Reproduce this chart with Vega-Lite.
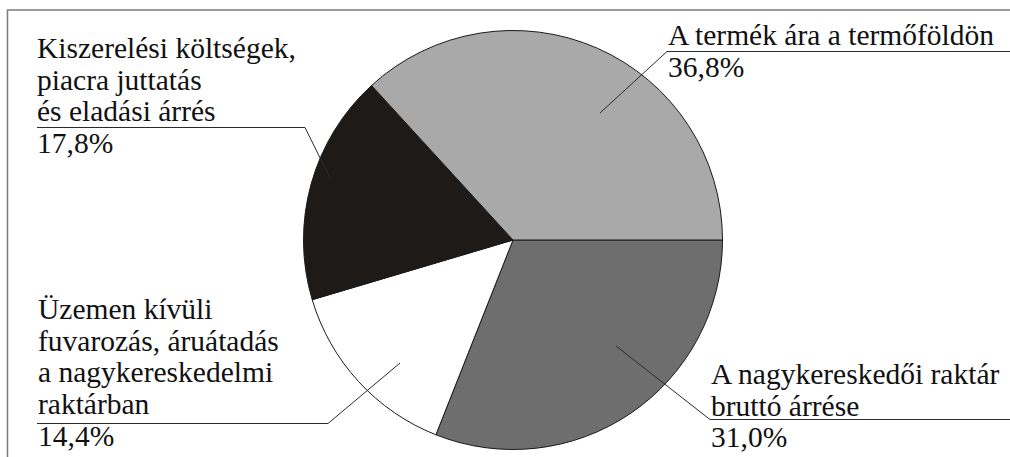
{
  "$schema": "https://vega.github.io/schema/vega-lite/v6.json",
  "width": 994,
  "height": 434,
  "autosize": {"type": "none"},
  "padding": {"left": 16, "top": 23, "right": 0, "bottom": 0},
  "background": "white",
  "config": {"view": {"stroke": null}},
  "datasets": {
    "slices": [
      {"category": "A nagykereskedői raktár bruttó árrése", "share": 31.0, "rank": 1},
      {"category": "Üzemen kívüli fuvarozás, áruátadás a nagykereskedelmi raktárban", "share": 14.4, "rank": 2},
      {"category": "Kiszerelési költségek, piacra juttatás és eladási árrés", "share": 17.8, "rank": 3},
      {"category": "A termék ára a termőföldön", "share": 36.8, "rank": 4}
    ],
    "labels": [
      {"text": "Kiszerelési költségek,\npiacra juttatás\nés eladási árrés\n17,8%", "x": 37, "y": 58},
      {"text": "A termék ára a termőföldön\n36,8%", "x": 668, "y": 45},
      {"text": "Üzemen kívüli\nfuvarozás, áruátadás\na nagykereskedelmi\nraktárban\n14,4%", "x": 38, "y": 319},
      {"text": "A nagykereskedői raktár\nbruttó árrése\n31,0%", "x": 711, "y": 384}
    ],
    "leaders": [
      {"id": "a", "k": 1, "x": 37, "y": 127.5},
      {"id": "a", "k": 2, "x": 305, "y": 127.5},
      {"id": "a", "k": 3, "x": 330, "y": 178},
      {"id": "b", "k": 1, "x": 600, "y": 113},
      {"id": "b", "k": 2, "x": 667, "y": 51.5},
      {"id": "b", "k": 3, "x": 1012, "y": 51.5},
      {"id": "c", "k": 1, "x": 37, "y": 423.5},
      {"id": "c", "k": 2, "x": 328, "y": 423.5},
      {"id": "c", "k": 3, "x": 400, "y": 363},
      {"id": "d", "k": 1, "x": 616, "y": 346},
      {"id": "d", "k": 2, "x": 710, "y": 419.5},
      {"id": "d", "k": 3, "x": 1012, "y": 419.5}
    ],
    "frame": [
      {"k": 1, "x": 7.5, "y": 460},
      {"k": 2, "x": 7.5, "y": 10},
      {"k": 3, "x": 1012, "y": 10}
    ]
  },
  "layer": [
    {
      "data": {"name": "slices"},
      "mark": {"type": "arc", "outerRadius": 209.5, "stroke": "#1a1a1a", "strokeWidth": 1},
      "encoding": {
        "theta": {"field": "share", "type": "quantitative", "stack": true, "scale": {"range": [1.5707963, 7.8539816]}},
        "order": {"field": "rank", "type": "quantitative"},
        "color": {
          "field": "category", "type": "nominal", "legend": null,
          "scale": {
            "domain": ["A nagykereskedői raktár bruttó árrése", "Üzemen kívüli fuvarozás, áruátadás a nagykereskedelmi raktárban", "Kiszerelési költségek, piacra juttatás és eladási árrés", "A termék ára a termőföldön"],
            "range": ["#6e6e6e", "#ffffff", "#1e1a18", "#a9a9a9"]
          }
        }
      }
    },
    {
      "data": {"name": "frame"},
      "mark": {"type": "line", "stroke": "#7a7a7a", "strokeWidth": 1.5},
      "encoding": {
        "x": {"field": "x", "type": "quantitative", "scale": {"domain": [16, 1010], "zero": false, "nice": false}, "axis": null},
        "y": {"field": "y", "type": "quantitative", "scale": {"domain": [457, 23], "zero": false, "nice": false}, "axis": null},
        "order": {"field": "k", "type": "quantitative"}
      }
    },
    {
      "data": {"name": "leaders"},
      "mark": {"type": "line", "stroke": "#2a2a2a", "strokeWidth": 1},
      "encoding": {
        "x": {"field": "x", "type": "quantitative", "scale": {"domain": [16, 1010], "zero": false, "nice": false}, "axis": null},
        "y": {"field": "y", "type": "quantitative", "scale": {"domain": [457, 23], "zero": false, "nice": false}, "axis": null},
        "detail": {"field": "id", "type": "nominal"},
        "order": {"field": "k", "type": "quantitative"}
      }
    },
    {
      "data": {"name": "labels"},
      "mark": {"type": "text", "font": "'Liberation Serif', 'DejaVu Serif', 'Noto Serif', 'Times New Roman', serif", "fontSize": 29.5, "fill": "#111111", "align": "left", "baseline": "alphabetic", "lineBreak": "\n", "lineHeight": 31.7},
      "encoding": {
        "x": {"field": "x", "type": "quantitative", "scale": {"domain": [16, 1010], "zero": false, "nice": false}, "axis": null},
        "y": {"field": "y", "type": "quantitative", "scale": {"domain": [457, 23], "zero": false, "nice": false}, "axis": null},
        "text": {"field": "text", "type": "nominal"}
      }
    }
  ]
}
